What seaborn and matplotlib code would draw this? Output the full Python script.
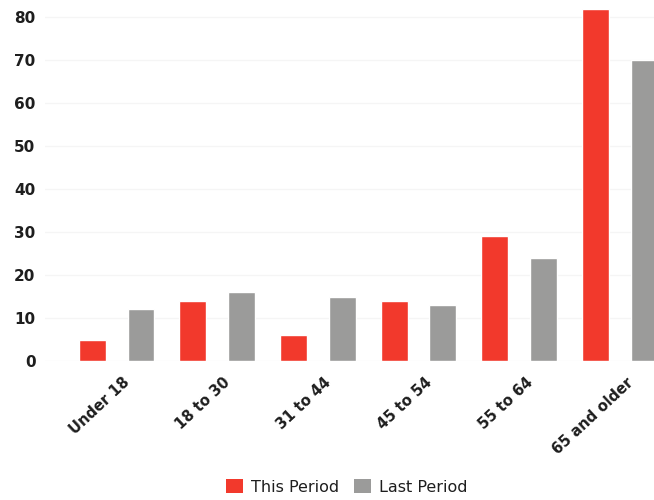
import matplotlib
matplotlib.use("Agg")
import matplotlib.pyplot as plt
import matplotlib.transforms as mtransforms
from matplotlib.patches import Patch
import seaborn as sns
import pandas as pd

# Age groups and visit counts for the two periods
age_groups = ["Under 18", "18 to 30", "31 to 44", "45 to 54", "55 to 64", "65 and older"]
this_period = [5, 14, 6, 14, 29, 82]
last_period = [12, 16, 15, 13, 24, 70]
series_names = ["This Period", "Last Period"]
y_ticks = [0, 10, 20, 30, 40, 50, 60, 70, 80]

colors = {"This Period": "#f2392c", "Last Period": "#9b9b9a"}

df = pd.DataFrame({
    "age": age_groups * 2,
    "value": this_period + last_period,
    "series": [series_names[0]] * len(age_groups) + [series_names[1]] * len(age_groups),
})

sns.set_style("white")
plt.rcParams["font.family"] = ["DejaVu Sans"]

fig = plt.figure(figsize=(6.54, 5.0), dpi=100)
ax = fig.add_axes([0.069, 0.278, 0.931, 0.722])

sns.barplot(data=df, x="age", y="value", hue="series", order=age_groups,
            hue_order=series_names, palette=colors, width=0.97, gap=0.45,
            saturation=1, legend=False, ax=ax)

ax.set_xlim(-0.71, 5.34)
ax.set_ylim(0, 84)
ax.set_yticks(y_ticks)
ax.set_yticklabels([str(t) for t in y_ticks], fontsize=11, fontweight="bold", color="#1e1e1e")
ax.yaxis.grid(True, color="#f5f5f5", linewidth=1)
ax.set_axisbelow(True)
ax.tick_params(axis="y", length=0, pad=7)
ax.tick_params(axis="x", length=0, pad=10)
ax.set_xlabel("")
ax.set_ylabel("")
for s in ax.spines.values():
    s.set_visible(False)

offset = mtransforms.ScaledTranslation(6 / 100, 0, fig.dpi_scale_trans)
for lbl in ax.get_xticklabels():
    lbl.set_rotation(43)
    lbl.set_ha("right")
    lbl.set_va("top")
    lbl.set_rotation_mode("anchor")
    lbl.set_fontsize(10.5)
    lbl.set_fontweight("bold")
    lbl.set_color("#1e1e1e")
    lbl.set_transform(lbl.get_transform() + offset)

handles = [Patch(facecolor=colors[n], edgecolor="none", label=n) for n in series_names]
fig.legend(handles=handles, loc="center", bbox_to_anchor=(0.53, 0.026), ncol=2,
           frameon=False, fontsize=11.5, handlelength=1.1, handleheight=1.0,
           handletextpad=0.5, columnspacing=0.9, labelcolor="#1e1e1e")

fig.savefig("out.png", dpi=100)
